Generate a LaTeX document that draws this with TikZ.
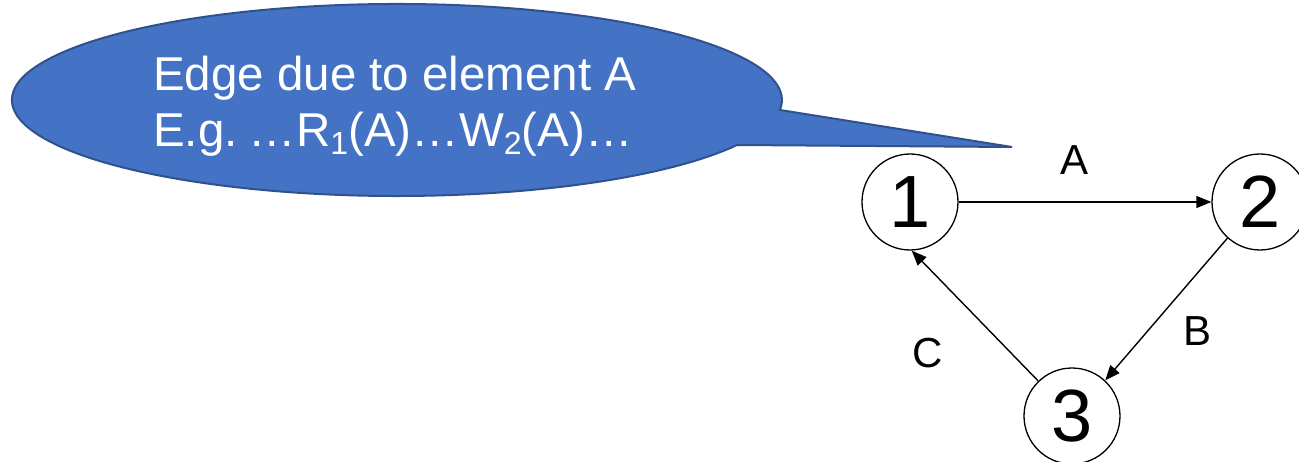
\documentclass[tikz,border=0pt]{standalone}
\usepackage{fontspec}
\setmainfont{Liberation Sans}
\usetikzlibrary{arrows.meta}
\definecolor{calloutfill}{HTML}{4472C4}
\definecolor{calloutline}{HTML}{2F528F}
\newcommand{\lowsub}[1]{\raisebox{-8pt}{\fontsize{32}{32}\selectfont #1}}
\begin{document}
\begin{tikzpicture}[x=1pt,y=1pt,
  vertex/.style={circle,draw=black,line width=1.3pt,minimum size=96pt,inner sep=0pt,
    font=\fontsize{74}{74}\selectfont},
  edgelabel/.style={inner sep=0pt,font=\fontsize{42}{42}\selectfont},
  arc edge/.style={line width=1.4pt,-{Triangle[length=15pt,width=12pt]}},
  callouttext/.style={anchor=base west,inner sep=0pt,text=white,
    font=\fontsize{47.5}{56}\selectfont}]
\useasboundingbox (0,0) rectangle (1299,461);

% speech bubble pointing at edge A
\coordinate (ptrtop) at (780,351);
\coordinate (ptrtip) at (1012,314);
\coordinate (ptrlow) at (737,316);
\filldraw[fill=calloutfill,draw=calloutline,line width=2pt,line join=miter]
  (ptrtop) -- (ptrtip) -- (ptrlow)
  arc[start angle=-27.96,end angle=-365.97,x radius=385pt,y radius=96pt] -- cycle;
\node[callouttext] (line1) at (153,370) {Edge due to element A};
\node[callouttext] (line2) at (153,314) {E.g.\hspace{11pt}…R\lowsub{1}(A)…W\lowsub{2}(A)…};

% precedence graph
\node[vertex] (n1) at (910,259) {1};
\node[vertex] (n2) at (1260,259) {2};
\node[vertex] (n3) at (1072,45) {3};

\draw[arc edge] (n1.east) -- (n2.west);
\draw[arc edge] (n2.228) -- (n3.47);
\draw[arc edge] (n3.134) -- (n1.-88);

\node[edgelabel] (la) at (1074,301) {A};
\node[edgelabel] (lb) at (1197,130) {B};
\node[edgelabel] (lc) at (928,108) {C};
\end{tikzpicture}
\end{document}
